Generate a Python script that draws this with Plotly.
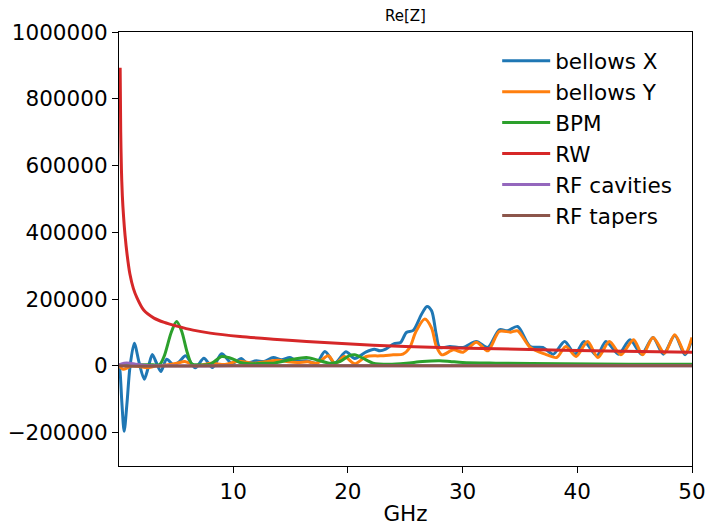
import plotly.graph_objects as go

# ---------------- data ----------------
bellows_x_f = [0.05, 0.15, 0.3, 0.5, 0.75, 1.0, 1.38, 1.8, 2.25, 2.6, 2.95, 3.3, 3.7, 4.2, 4.8,
               5.3, 5.85, 6.7, 7.45, 8.2, 9.0, 9.9, 10.7, 11.2, 12.0, 12.7, 13.5, 14.2, 14.95,
               15.5, 16.4, 17.27, 18.0, 18.87, 19.83, 20.6, 21.6, 22.3, 22.8, 23.3, 24.0, 24.6,
               25.1, 25.7, 26.4, 26.9, 27.3, 27.7, 28.0, 28.9, 30.05, 31.2, 32.2, 33.2, 33.9,
               34.8, 35.9, 37.0, 37.9, 38.9, 39.8, 40.6, 41.7, 42.5, 43.6, 44.6, 45.6, 46.6,
               47.5, 48.5, 49.4, 50.0]
bellows_x_v = [5000, -20000, -110000, -196000, -110000, -5000, 68000, 10000, -40000, -5000, 34000,
               10000, -17000, 20000, 3000, 12000, 30000, -6000, 23000, -5000, 36000, 7000, 22000,
               9000, 15000, 13000, 25000, 18000, 25000, 15000, 15000, 8000, 43000, 8000, 42000,
               22000, 42000, 50000, 45000, 50000, 66000, 70000, 100000, 106000, 153000, 178000,
               165000, 95000, 55000, 58000, 55000, 73000, 55000, 108000, 105000, 118000, 58000,
               55000, 35000, 73000, 35000, 73000, 30000, 73000, 35000, 78000, 35000, 85000,
               35000, 91000, 33000, 80000]

bellows_y_f = [0.05, 0.4, 0.8, 1.15, 1.8, 2.5, 3.3, 4.0, 5.1, 5.8, 6.7, 8.1, 9.3, 10.4, 11.8,
               12.8, 13.9, 14.8, 15.6, 16.5, 17.3, 18.3, 18.9, 19.7, 20.6, 21.6, 22.8, 23.95,
               24.8, 25.4, 25.9, 26.7, 27.3, 27.7, 28.2, 29.2, 30.05, 31.2, 32.2, 33.2, 34.2,
               34.8, 35.9, 37.2, 38.2, 39.0, 39.9, 40.9, 41.8, 42.8, 43.8, 44.9, 45.7, 46.6,
               47.6, 48.5, 49.4, 50.0]
bellows_y_v = [0, -10000, -6000, 0, -2000, -6000, 0, 2000, 8000, 13000, 0, 8000, 4000, 14000,
               8000, 12000, 17000, 12000, 10000, 12000, 8000, 30000, 6000, 28000, 6000, 28000,
               30000, 33000, 35000, 55000, 100000, 140000, 113000, 60000, 33000, 48000, 41000,
               71000, 45000, 103000, 101000, 105000, 55000, 35000, 25000, 58000, 28000, 73000,
               25000, 73000, 33000, 78000, 33000, 85000, 38000, 93000, 38000, 85000]

bpm_f = [0.05, 1.0, 2.0, 3.0, 3.6, 4.0, 4.6, 5.07, 5.5, 6.0, 6.4, 7.0, 8.0, 9.0, 9.6, 10.2,
         10.6, 11.5, 12.5, 13.5, 14.95, 16.4, 17.3, 18.4, 19.3, 20.1, 20.6, 21.3, 22.2, 23.6,
         25.1, 26.5, 28.0, 28.9, 30.0, 32.9, 38.7, 44.5, 50.0]
bpm_v = [3000, 3000, 3000, 3000, 4000, 30000, 100000, 133000, 105000, 40000, 6000, 3000, 5000,
         28000, 25000, 17000, 10000, 6000, 8000, 8000, 18000, 25000, 18000, 8000, 13000, 30000,
         33000, 23000, 8000, 5000, 8000, 13000, 15000, 13000, 10000, 8000, 6000, 5000, 5000]

rw_f = [0.15, 0.2, 0.26, 0.34, 0.45, 0.58, 0.75, 1.0, 1.3, 1.6, 2.2, 3.1, 4.0, 5.1, 6.5, 8.0,
        10.6, 13.5, 16.4, 22.2, 28.0, 33.0, 38.7, 44.0, 50.0]
rw_v = [893000, 700000, 590000, 510000, 446000, 390000, 335000, 275000, 232000, 205000,
        167000, 143000, 130000, 119000, 107000, 98000, 88000, 80000, 73000, 62000, 55000,
        51000, 47000, 44000, 41000]

rf_cav_f = [0.05, 0.5, 1.0, 1.5, 2.5, 4.0, 10.0, 20.0, 30.0, 40.0, 50.0]
rf_cav_v = [3000, 8000, 8000, 5000, 1000, 0, 0, 0, 0, 0, 0]

rf_tap_f = [0.05, 1.0, 10.0, 20.0, 30.0, 40.0, 50.0]
rf_tap_v = [0, -1000, 0, 0, 0, 0, 0]

x_ticks = [10, 20, 30, 40, 50]
y_ticks = [-200000, 0, 200000, 400000, 600000, 800000, 1000000]
y_ticktext = [str(v).replace("-", "\u2212") for v in y_ticks]

series = [
    ("bellows X", bellows_x_f, bellows_x_v, "#1f77b4"),
    ("bellows Y", bellows_y_f, bellows_y_v, "#ff7f0e"),
    ("BPM", bpm_f, bpm_v, "#2ca02c"),
    ("RW", rw_f, rw_v, "#d62728"),
    ("RF cavities", rf_cav_f, rf_cav_v, "#9467bd"),
    ("RF tapers", rf_tap_f, rf_tap_v, "#8c564b"),
]

FONT = "DejaVu Sans"

fig = go.Figure()
for i, (name, f, v, col) in enumerate(series):
    fig.add_trace(go.Scatter(
        x=f, y=v, name=name, mode="lines",
        line=dict(color=col, width=3, shape="spline", smoothing=0.8),
        legendgroup=f"g{i}",
    ))

axis_common = dict(
    showline=True, linecolor="black", linewidth=1.2, mirror=True,
    ticks="outside", ticklen=6, tickwidth=1.2, tickcolor="black",
    showgrid=False, zeroline=False, automargin=False,
    tickfont=dict(family=FONT, size=21.5, color="black"),
)

fig.update_layout(
    width=711, height=527,
    margin=dict(l=119, r=19, t=32, b=61),
    paper_bgcolor="white", plot_bgcolor="white",
    font=dict(family=FONT, color="black"),
    title=dict(text="Re[Z]", x=0.5703, xanchor="center", y=0.97, yanchor="middle",
               font=dict(family=FONT, size=15, color="black")),
    xaxis=dict(range=[0.05, 50], tickvals=x_ticks,
               title=dict(text="GHz", font=dict(family=FONT, size=21.5, color="black"), standoff=3),
               **axis_common),
    yaxis=dict(range=[-300000, 1000000], tickvals=y_ticks, ticktext=y_ticktext,
               **axis_common),
    legend=dict(x=0.66, xanchor="left", y=0.981, yanchor="top",
                font=dict(family=FONT, size=21.5, color="black"),
                bgcolor="rgba(0,0,0,0)", borderwidth=0, tracegroupgap=0,
                itemwidth=48),
    showlegend=True,
)

fig.write_html("out.html")
